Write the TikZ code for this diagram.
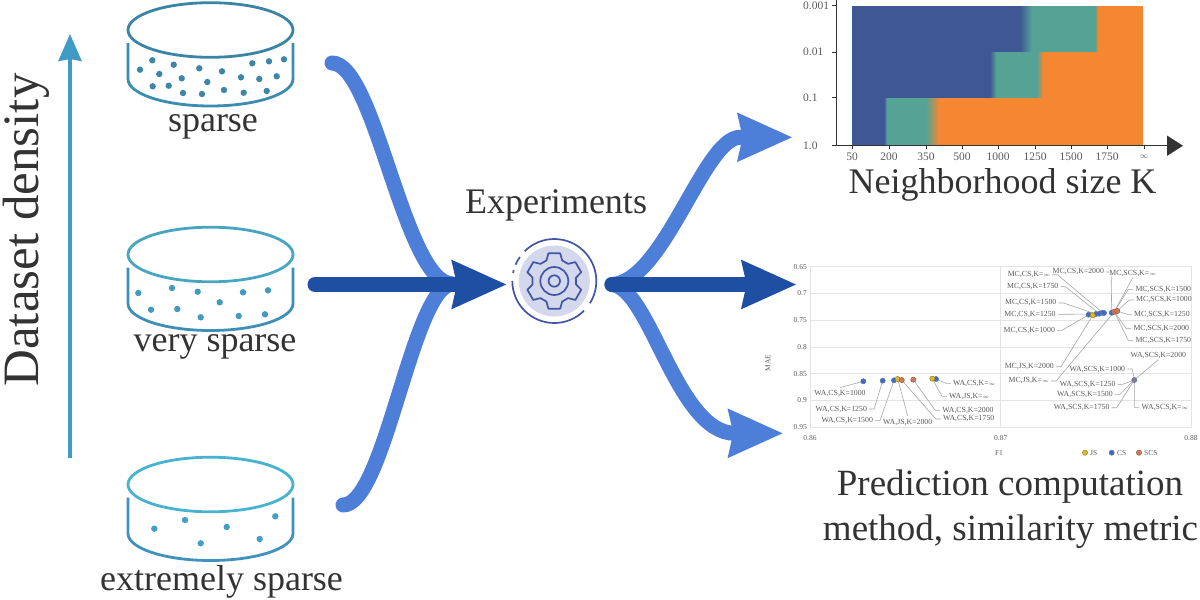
\documentclass[tikz,border=0pt]{standalone}
\usepackage{amssymb}
\usepackage{amsmath}
\usepackage{fontspec}
\setmainfont{Liberation Serif}
\usepackage{tikz}
\usetikzlibrary{arrows.meta,calc}
\definecolor{txtgray}{HTML}{333333}
\definecolor{ticktxt}{HTML}{5A5A5A}
\definecolor{lightflow}{HTML}{4E7FD8}
\definecolor{darkflow}{HTML}{1E4FA3}
\definecolor{upcol}{HTML}{3F9AC4}
\definecolor{hblue}{HTML}{405796}
\definecolor{hteal}{HTML}{55A394}
\definecolor{horange}{HTML}{F58733}
\definecolor{gearcol}{HTML}{4355A5}
\definecolor{gearfill}{HTML}{D3D8EC}
\definecolor{gridcol}{HTML}{E4E4E4}
\definecolor{leadcol}{HTML}{A6A6A6}
\definecolor{dotjs}{HTML}{DDB92F}
\definecolor{dotcs}{HTML}{3E6BC1}
\definecolor{dotscs}{HTML}{D6785A}
\definecolor{dotedge}{HTML}{5F7CAF}
\tikzset{
    flowlight/.style={draw=lightflow, line width=15pt, line cap=round},
    flowdark/.style={draw=darkflow, line width=15pt, line cap=round},
    headtip/.style={-{Stealth[length=54pt,width=46pt,inset=4pt]}},
    bigtxt/.style={text=txtgray, inner sep=0pt, anchor=base, font=\fontsize{36}{36}\selectfont},
    ticktxt/.style={text=ticktxt, inner sep=0pt, font=\fontsize{11.5}{12}\selectfont},
    smalltxt/.style={text=ticktxt, inner sep=0pt, font=\fontsize{7.5}{8}\selectfont},
    ptlabel/.style={text=ticktxt, inner sep=0pt, font=\fontsize{7.8}{8}\selectfont},
    lead/.style={draw=leadcol, line width=0.6pt},
    scdot/.style={circle, inner sep=0pt, minimum size=5.2pt, draw=dotedge, line width=0.5pt},
}
\newcommand{\dbcyl}[3]{
    \draw[#2, line width=2.8pt] (210.5,#1) ellipse (82.5 and 27.3);
    \draw[#3, line width=2.8pt] (128,#1+13) -- (128,#1+49) arc[start angle=180, end angle=0, x radius=82.5, y radius=27] -- (293,#1+13);
}
\newcommand{\leadE}[2]{\draw[lead] ([xshift=2pt]#1.east) -- ++(5,0) -- (#2);}
\newcommand{\leadW}[2]{\draw[lead] ([xshift=-2pt]#1.west) -- ++(-5,0) -- (#2);}
\newcommand{\leadS}[2]{\draw[lead] ([yshift=-1pt]#1.south) -- (#2);}
\newcommand{\leadN}[2]{\draw[lead] ([yshift=3pt]#1.north) -- (#2);}
\begin{document}
\begin{tikzpicture}[x=1pt,y=-1pt]
    \useasboundingbox (0,0) rectangle (1200,600);

    \dbcyl{30}{draw={rgb,255:red,58;green,133;blue,165}}{draw={rgb,255:red,58;green,141;blue,176}}
    \dbcyl{254.5}{draw={rgb,255:red,70;green,166;blue,194}}{draw={rgb,255:red,62;green,143;blue,181}}
    \dbcyl{484.5}{draw={rgb,255:red,71;green,179;blue,207}}{draw={rgb,255:red,63;green,146;blue,190}}
    \foreach \x/\y in {140/69.7,152.3/60.3,173.7/64.7,159.3/74,152.7/86.3,168.7/85.7,181.7/78.3,183/93,199.3/68.3,207.3/82,202/94,222/71.3,224/90,241/77.3,243.7/92.7,252.3/63.3,269/61.3,284/59.3,259.3/79,276.7/76.3,266.7/91}
        \fill[color={rgb,255:red,61;green,134;blue,168}] (\x,\y) circle (3.2);
    \foreach \x/\y in {138.3/293,172/288,197.7/291.7,243/292.3,268/290.3,151/309.7,177.3/309,200.7/317.3,219.7/302.3,238.7/316,265/314.3}
        \fill[color={rgb,255:red,66;green,155;blue,190}] (\x,\y) circle (3.2);
    \foreach \x/\y in {154.3/528.7,185/520,226.7/527,200.7/543.3,259.7/539,275.3/516.3}
        \fill[color={rgb,255:red,66;green,160;blue,198}] (\x,\y) circle (3.2);
    \node[bigtxt] (sparse) at (213,131) {sparse};
    \node[bigtxt] (verysparse) at (215,351) {very sparse};
    \node[bigtxt] (extremesparse) at (221.5,590) {extremely sparse};

    \coordinate (upstart) at (70,458);
    \coordinate (upend) at (70,34);
    \draw[upcol, line width=3.5pt, -{Stealth[length=27pt,width=23pt,inset=2pt]}] (upstart) -- (upend);
    \node[bigtxt, rotate=90, anchor=base, font=\fontsize{51}{51}\selectfont] (density) at (38,230) {Dataset density};

    \coordinate (srcone) at (332,63);
    \coordinate (srctwo) at (315,284.5);
    \coordinate (srcthree) at (343,505);
    \coordinate (joinin) at (452,284);
    \coordinate (gearin) at (507,284.5);
    \draw[flowlight] (srcone) .. controls (375,63) and (404,282) .. (joinin);
    \draw[flowlight] (srcthree) .. controls (385,505) and (412,288) .. (joinin);
    \draw[flowdark, headtip] (srctwo) -- (gearin);

    \coordinate (gearout) at (612,284.5);
    \coordinate (bendtop) at (740,137.3);
    \coordinate (tiptop) at (792.7,137.3);
    \coordinate (tipmid) at (796.7,284.5);
    \coordinate (bendlow) at (735,433.3);
    \coordinate (tiplow) at (783.3,433.3);
    \draw[flowlight, headtip] (gearout) .. controls (664,282) and (704,137.3) .. (bendtop) -- (tiptop);
    \draw[flowlight, headtip] (gearout) .. controls (650,288) and (677,433.3) .. (bendlow) -- (tiplow);
    \draw[flowdark, headtip] (gearout) -- (tipmid);

    \node[bigtxt] (experiments) at (556,213) {Experiments};
    \begin{scope}[shift={(554.3,281)},y=1pt]
        \fill[gearfill] (0,0) circle (35.5);
        \draw[gearcol, line width=1.7pt] (135:42) arc[start angle=135, end angle=-32, radius=42];
        \draw[gearcol, line width=1.7pt] (-45:42) arc[start angle=-45, end angle=-180, radius=42];
        \draw[gearcol, line width=1.7pt] (145:42) arc[start angle=145, end angle=157, radius=42];
        \draw[gearcol, line width=1.7pt] (165:42) arc[start angle=165, end angle=169, radius=42];
        \draw[gearcol, line width=1.7pt, line join=round] (51:22)
            \foreach \a in {390,330,270,210,150,90} { -- ({\a+21}:22) -- ({\a+12}:28.3) -- ({\a-12}:28.3) -- ({\a-21}:22) } -- cycle;
        \draw[gearcol, line width=1.7pt] (0,0) circle (14);
        \draw[gearcol, line width=1.7pt] (0,0) circle (5.7);
    \end{scope}

    \fill[hblue] (852,5.7) rectangle (1026,52);
    \fill[hteal] (1026,5.7) rectangle (1095,52);
    \shade[left color=hblue, right color=hteal] (1020,6.2) rectangle (1032,52);
    \fill[horange] (1096.5,5.7) rectangle (1143,52);
    \shade[left color=hteal, right color=horange] (1095,6.2) rectangle (1098,52);
    \fill[hblue] (852,52) rectangle (990,98);
    \shade[left color=hblue, right color=hteal] (990,52) rectangle (996,98);
    \fill[hteal] (996,52) rectangle (1037,98);
    \shade[left color=hteal, right color=horange] (1037,52) rectangle (1043,98);
    \fill[horange] (1043,52) rectangle (1143,98);
    \fill[hblue] (852,98) rectangle (884,145.7);
    \shade[left color=hblue, right color=hteal] (884,98) rectangle (887,145.7);
    \fill[hteal] (887,98) rectangle (926,145.7);
    \shade[left color=hteal, right color=horange] (926,98) rectangle (939,145.7);
    \fill[horange] (939,98) rectangle (1143,145.7);
    \draw[txtgray, line width=1.5pt] (836.7,0) -- (836.7,146.4);
    \coordinate (axstart) at (832,145.7);
    \coordinate (axend) at (1183,145.7);
    \draw[txtgray, line width=1.5pt, -{Stealth[length=16pt,width=20pt,inset=0pt]}] (axstart) -- (axend);
    \foreach \y/\lab in {5.7/0.001,52/0.01,97.7/0.1,145.7/1.0} {
        \draw[txtgray, line width=0.8pt] (832,\y) -- (836.7,\y);
        \node[ticktxt, anchor=west] (hy\lab) at (803,\y) {\lab};
    }
    \foreach \x/\lab in {852/50,889/200,926/350,962/500,998/1000,1035/1250,1071/1500,1107/1750} {
        \draw[txtgray, line width=0.8pt] (\x,146) -- (\x,149);
        \node[ticktxt, anchor=base] (hx\x) at (\x,160) {\lab};
    }
    \draw[txtgray, line width=0.8pt] (1144,146) -- (1144,149);
    \node[ticktxt, anchor=base] (hxinf) at (1144,158) {$\scriptstyle\infty$};
    \node[bigtxt] (ksize) at (1002.5,193) {Neighborhood size K};

    \foreach \y in {266.7,293.3,320.3,347.3,373.7,400.3,427}
        \draw[gridcol, line width=0.8pt] (810,\y) -- (1191.7,\y);
    \foreach \x in {810,1000.3,1191.7}
        \draw[gridcol, line width=0.8pt] (\x,266.7) -- (\x,427);
    \foreach \y/\lab in {266.7/0.65,293.3/0.7,320.3/0.75,347.3/0.8,373.7/0.85,400.3/0.9,427/0.95}
        \node[smalltxt, anchor=east] (sy\lab) at (807,\y) {\lab};
    \foreach \x/\lab in {810/0.86,1000.7/0.87,1191/0.88}
        \node[smalltxt] (sx\lab) at (\x,437.7) {\lab};
    \node[smalltxt] (fone) at (999,452.7) {F1};
    \node[smalltxt, rotate=90] (mae) at (768,363) {MAE};

    \foreach \nm/\x/\y/\txt in {
        mcinf/1029/274.7/{MC,CS,K=$\scriptstyle\infty$}, mcd/1078.3/272/{MC,CS,K=2000}, msinf/1132.7/273.3/{MC,SCS,K=$\scriptstyle\infty$},
        mcg/1032.7/286.7/{MC,CS,K=1750}, msf/1163.3/289.3/{MC,SCS,K=1500}, msa/1164/300/{MC,SCS,K=1000},
        mcf/1030.7/303/{MC,CS,K=1500}, mcb/1030/314.3/{MC,CS,K=1250}, msb/1162/314.3/{MC,SCS,K=1250},
        mca/1029.3/330.3/{MC,CS,K=1000}, msd/1161.3/328.7/{MC,SCS,K=2000}, msg/1163.3/340.7/{MC,SCS,K=1750},
        wsd/1158.3/355.3/{WA,SCS,K=2000}, mjd/1029.3/366.7/{MC,JS,K=2000}, wsa/1097.3/369/{WA,SCS,K=1000},
        mjinf/1028.7/381/{MC,JS,K=$\scriptstyle\infty$}, wsb/1087.7/384.3/{WA,SCS,K=1250}, wsf/1085/394.3/{WA,SCS,K=1500},
        wsg/1081.7/407.7/{WA,SCS,K=1750}, wsinf/1165/407.3/{WA,SCS,K=$\scriptstyle\infty$}, wcinf/974.3/383.3/{WA,CS,K=$\scriptstyle\infty$},
        wjinf/969.3/396.3/{WA,JS,K=$\scriptstyle\infty$}, wca/840/394/{WA,CS,K=1000}, wcb/841.3/409/{WA,CS,K=1250},
        wcf/847.3/420.3/{WA,CS,K=1500}, wjd/907.7/422.3/{WA,JS,K=2000}, wcd/968/410.3/{WA,CS,K=2000},
        wcg/968.7/419/{WA,CS,K=1750}}
        \node[ptlabel] (\nm) at (\x,\y) {\txt};

    \coordinate (pwa) at (863.3,381.3);
    \coordinate (pwb) at (882.7,380.7);
    \coordinate (pwc) at (894,380.3);
    \coordinate (pwd) at (936,379);
    \coordinate (pwj) at (897.7,379);
    \coordinate (pwk) at (932.3,378.7);
    \coordinate (pws) at (901.7,380);
    \coordinate (pwt) at (913.3,379.7);
    \coordinate (pma) at (1088.7,314.7);
    \coordinate (pmb) at (1096,314);
    \coordinate (pmc) at (1099.3,313.7);
    \coordinate (pmd) at (1102.7,312.7);
    \coordinate (pme) at (1104,313);
    \coordinate (pmj) at (1092.7,315.3);
    \coordinate (pmk) at (1111.7,312.7);
    \coordinate (pms) at (1114.3,311.7);
    \coordinate (pmt) at (1117.3,311);
    \coordinate (pww) at (1134.3,380);

    \leadE{mcinf}{pmd}
    \leadE{mcd}{pmk}
    \leadE{mcg}{pmc}
    \leadE{mcf}{pmb}
    \leadE{mcb}{pmb}
    \leadE{mca}{pma}
    \leadE{mjd}{pmj}
    \leadE{mjinf}{pms}
    \leadS{msinf}{pms}
    \leadW{msf}{pms}
    \leadW{msa}{pmt}
    \leadW{msb}{pmt}
    \leadW{msd}{pms}
    \leadW{msg}{pms}
    \leadS{wsd}{pww}
    \leadE{wsa}{pww}
    \leadE{wsb}{pww}
    \leadE{wsf}{pww}
    \leadE{wsg}{pww}
    \leadW{wsinf}{pww}
    \leadW{wcinf}{pwd}
    \leadW{wjinf}{pwk}
    \leadN{wca}{pwa}
    \leadE{wcb}{pwb}
    \leadE{wcf}{pwc}
    \leadN{wjd}{pwj}
    \leadW{wcd}{pwt}
    \leadW{wcg}{pws}

    \foreach \p in {pwa,pwb,pwc,pwd,pma,pmb,pmc,pmd,pme,pmk}
        \node[scdot, fill=dotcs] (d\p) at (\p) {};
    \foreach \p in {pwj,pwk,pmj}
        \node[scdot, fill=dotjs, draw=dotjs!70!black] (d\p) at (\p) {};
    \foreach \p in {pws,pwt,pms,pmt}
        \node[scdot, fill=dotscs, draw=dotscs!70!black] (d\p) at (\p) {};
    \node[scdot, fill=dotscs!55!dotcs] (dpww) at (pww) {};

    \node[scdot, fill=dotjs, draw=dotjs!70!black] (legjs) at (1085,452.7) {};
    \node[smalltxt, anchor=west] (legjstxt) at (1090,452.7) {JS};
    \node[scdot, fill=dotcs] (legcs) at (1111.7,452.7) {};
    \node[smalltxt, anchor=west] (legcstxt) at (1117,452.7) {CS};
    \node[scdot, fill=dotscs, draw=dotscs!70!black] (legscs) at (1139,452.7) {};
    \node[smalltxt, anchor=west] (legscstxt) at (1144,452.7) {SCS};

    \node[bigtxt, font=\fontsize{37}{37}\selectfont] (predline) at (1010,495) {Prediction computation};
    \node[bigtxt, font=\fontsize{37}{37}\selectfont] (methodline) at (1010.5,540) {method, similarity metric};
\end{tikzpicture}
\end{document}
